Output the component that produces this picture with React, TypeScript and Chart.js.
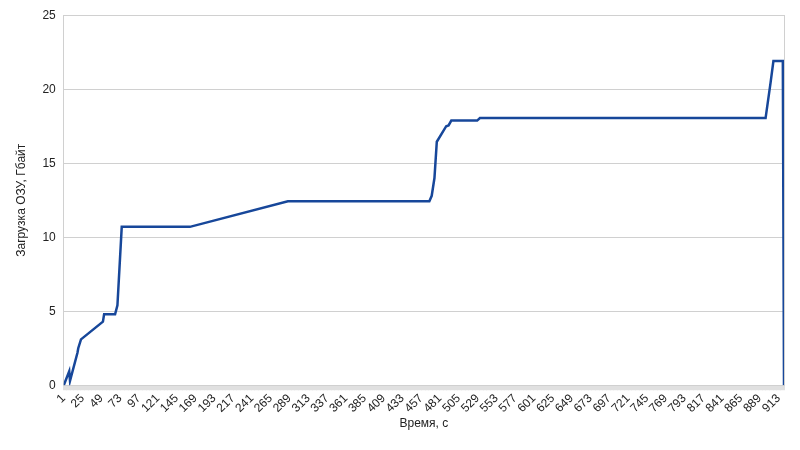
import React, { useEffect, useRef } from "react";
import { Chart, registerables } from "chart.js";

Chart.register(...registerables);

// Time (s) at each breakpoint of the RAM usage curve
const timeSeconds = [
  1, 8, 9, 18.5, 19.5, 23, 51, 52.5, 66.5, 69.5, 75, 162, 287, 467.5, 470.5,
  474, 477, 489, 492, 495.5, 528.5, 532, 896.5, 903, 906.5, 918.5, 920,
];
// RAM usage (GB) at each breakpoint
const ramGb = [
  0, 0.95, 0.3, 2.2, 2.5, 3.1, 4.3, 4.8, 4.8, 5.4, 10.7, 10.7, 12.43, 12.43,
  12.8, 14.0, 16.45, 17.5, 17.55, 17.88, 17.88, 18.05, 18.05, 20.5, 21.9, 21.9,
  0,
];

const xTickLabels = [
  1, 25, 49, 73, 97, 121, 145, 169, 193, 217, 241, 265, 289, 313, 337, 361,
  385, 409, 433, 457, 481, 505, 529, 553, 577, 601, 625, 649, 673, 697, 721,
  745, 769, 793, 817, 841, 865, 889, 913,
];
const xMin = 1;
const xMax = 920;
const yMin = 0;
const yMax = 25;
const yStep = 5;

const xTitle = "Время, с";
const yTitle = "Загрузка ОЗУ, Гбайт";

export default function App() {
  const ref = useRef<HTMLCanvasElement>(null);

  useEffect(() => {
    document.body.style.margin = "0";
    const font = "'Liberation Sans', Arial, sans-serif";
    const textColor = "#222222";
    const gridColor = "#d0d0d0";
    const chart = new Chart(ref.current as HTMLCanvasElement, {
      type: "line",
      data: {
        datasets: [
          {
            data: timeSeconds.map((t, i) => ({ x: t, y: ramGb[i] })),
            borderColor: "#17479a",
            borderWidth: 2.5,
            pointRadius: 0,
            tension: 0,
            fill: false,
          },
        ],
      },
      options: {
        responsive: false,
        animation: false,
        layout: { padding: { left: 14, right: 16, top: 10, bottom: 19 } },
        plugins: { legend: { display: false }, tooltip: { enabled: false } },
        scales: {
          x: {
            type: "linear",
            min: xMin,
            max: xMax,
            afterBuildTicks: (axis: any) => {
              const t: { value: number }[] = [];
              for (let v = xMin; v <= xMax; v++) t.push({ value: v });
              axis.ticks = t;
            },
            ticks: {
              autoSkip: false,
              minRotation: 45,
              maxRotation: 45,
              padding: 1,
              color: textColor,
              font: { family: font, size: 12 },
              callback: (v: any) =>
                xTickLabels.includes(Number(v)) ? String(v) : "",
            },
            grid: {
              drawOnChartArea: false,
              color: "#e0e0e0",
              tickLength: 5,
            },
            border: { color: gridColor },
            title: {
              display: true,
              text: xTitle,
              color: textColor,
              font: { family: font, size: 12 },
              padding: { top: 0, bottom: 0 },
            },
          },
          y: {
            min: yMin,
            max: yMax,
            ticks: {
              stepSize: yStep,
              padding: 8,
              color: textColor,
              font: { family: font, size: 12 },
            },
            grid: { color: gridColor, drawTicks: false },
            border: { color: gridColor },
            title: {
              display: true,
              text: yTitle,
              color: textColor,
              font: { family: font, size: 12 },
              padding: { top: 0, bottom: 6 },
            },
          },
          y2: {
            position: "right",
            min: yMin,
            max: yMax,
            ticks: { display: false },
            grid: { drawOnChartArea: false, drawTicks: false },
            border: { color: gridColor },
          },
        },
      },
    } as any);
    return () => chart.destroy();
  }, []);

  return (
    <canvas
      ref={ref}
      width={800}
      height={450}
      style={{ display: "block", width: 800, height: 450 }}
    />
  );
}
